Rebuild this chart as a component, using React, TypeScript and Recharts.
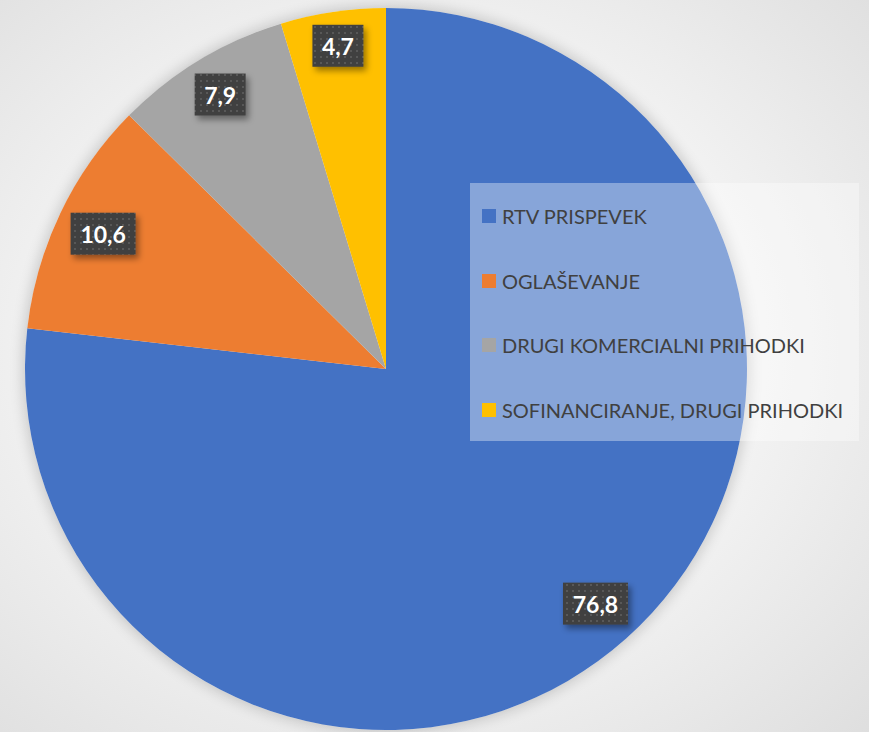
import React from "react";
import { PieChart, Pie, Cell, Legend } from "recharts";

const categories = [
  "RTV PRISPEVEK",
  "OGLAŠEVANJE",
  "DRUGI KOMERCIALNI PRIHODKI",
  "SOFINANCIRANJE, DRUGI PRIHODKI",
];
const values = [76.8, 10.6, 7.9, 4.7];
const colors = ["#4472C4", "#ED7D31", "#A5A5A5", "#FFC000"];

const data = categories.map((name, i) => ({ name, value: values[i] }));

const W = 869;
const H = 732;
const CX = 386;
const CY = 369;
const R = 361;
const RAD = Math.PI / 180;

const renderLabel = (props: any) => {
  const { cx, cy, midAngle, outerRadius, value } = props;
  const text = String(value).replace(".", ",");
  const digits = text.replace(",", "").length;
  const bw = 14 * digits + 23;
  const bh = 42;
  const ux = Math.cos(-midAngle * RAD);
  const uy = Math.sin(-midAngle * RAD);
  const sx = (ux >= 0 ? 1 : -1) * (bw / 2);
  const sy = (uy >= 0 ? 1 : -1) * (bh / 2);
  const D = outerRadius - 9;
  const us = ux * sx + uy * sy;
  const ss = sx * sx + sy * sy;
  const t = -us + Math.sqrt(us * us - ss + D * D);
  const x = cx + t * ux;
  const y = cy + t * uy;
  return (
    <g>
      <rect
        x={x - bw / 2}
        y={y - bh / 2}
        width={bw}
        height={bh}
        fill="url(#dotPattern)"
        filter="url(#lblShadow)"
      />
      <text
        x={x}
        y={y}
        textAnchor="middle"
        dominantBaseline="central"
        fill="#ffffff"
        fontFamily="Lato, 'Open Sans', sans-serif"
        fontWeight={700}
        fontSize={23}
      >
        {text}
      </text>
    </g>
  );
};

const renderLegend = () => (
  <div
    style={{
      width: 389,
      height: 258,
      background: "rgba(255,255,255,0.36)",
      position: "relative",
      fontFamily: "Lato, 'Open Sans', sans-serif",
    }}
  >
    {categories.map((c, i) => (
      <div
        key={c}
        style={{
          position: "absolute",
          left: 12,
          top: 33 + i * 64.5 - 12,
          height: 24,
          display: "flex",
          alignItems: "center",
          whiteSpace: "nowrap",
        }}
      >
        <span
          style={{
            display: "inline-block",
            width: 14,
            height: 14,
            background: colors[i],
            marginRight: 6,
          }}
        />
        <span style={{ fontSize: 20, color: "#404040" }}>{c}</span>
      </div>
    ))}
  </div>
);

export default function App() {
  return (
    <div
      style={{
        position: "absolute",
        left: 0,
        top: 0,
        width: W,
        height: H,
        overflow: "hidden",
        background:
          "radial-gradient(ellipse 75% 75% at 47% 48%, #f6f6f6 0%, #f2f2f2 55%, #dedede 100%)",
      }}
    >
      <div
        style={{
          position: "absolute",
          left: CX - R,
          top: CY - R,
          width: 2 * R,
          height: 2 * R,
          borderRadius: "50%",
          boxShadow: "0 0 14px 2px rgba(0,0,0,0.18)",
        }}
      />
      <PieChart width={W} height={H} margin={{ top: 0, right: 0, bottom: 0, left: 0 }}>
        <defs>
          <pattern id="dotPattern" width="6" height="6" patternUnits="userSpaceOnUse">
            <rect width="6" height="6" fill="#404040" />
            <rect x="2" y="2" width="2" height="2" fill="#585858" />
          </pattern>
          <filter id="lblShadow" x="-30%" y="-30%" width="170%" height="180%">
            <feDropShadow dx="3" dy="4" stdDeviation="3" floodColor="#000" floodOpacity="0.4" />
          </filter>
        </defs>
        <Pie
          data={data}
          dataKey="value"
          nameKey="name"
          cx={CX}
          cy={CY}
          outerRadius={R}
          startAngle={90}
          endAngle={-270}
          stroke="none"
          label={renderLabel}
          labelLine={false}
          isAnimationActive={false}
        >
          {data.map((d, i) => (
            <Cell key={d.name} fill={colors[i]} />
          ))}
        </Pie>
        <Legend
          content={renderLegend}
          wrapperStyle={{ position: "absolute", left: 470, top: 183, width: 389, height: 258 }}
        />
      </PieChart>
    </div>
  );
}
